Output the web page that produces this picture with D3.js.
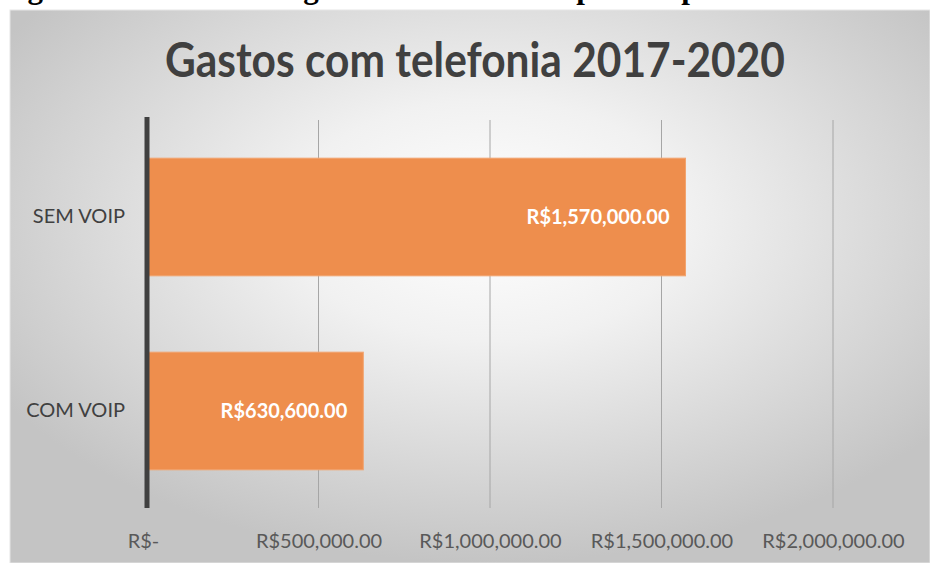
<!DOCTYPE html>
<html>
<head>
<meta charset="utf-8">
<script src="https://cdn.jsdelivr.net/npm/d3@7"></script>
<style>
  body { margin: 0; background: #fff; }
  svg { display: block; }
</style>
</head>
<body>
<div id="container"></div>
<script>
// chart data
var categories = ["SEM VOIP", "COM VOIP"];
var values = [1570000, 630600];
var tickValues = [0, 500000, 1000000, 1500000, 2000000];
var tickLabels = ["R$-", "R$500,000.00", "R$1,000,000.00", "R$1,500,000.00", "R$2,000,000.00"];
var valueLabels = ["R$1,570,000.00", "R$630,600.00"];
var title = "Gastos com telefonia 2017-2020";
var caption = "Figura 8 – Previsão de gastos com telefonia para os próximos três anos";

var W = 930, H = 563;
var font = "Lato, 'Open Sans', sans-serif";

var svg = d3.select("#container")
  .append("svg")
    .attr("width", W)
    .attr("height", H);

// background gradient of the chart area
var defs = svg.append("defs");
var grad = defs.append("radialGradient")
    .attr("id", "bg")
    .attr("cx", "52%").attr("cy", "38%").attr("r", "62%");
grad.append("stop").attr("offset", "0%").attr("stop-color", "#ffffff");
grad.append("stop").attr("offset", "35%").attr("stop-color", "#f1f1f1");
grad.append("stop").attr("offset", "100%").attr("stop-color", "#c4c4c4");

// document caption, cut off by the top of the page as in the source
svg.append("text")
    .attr("x", 0)
    .attr("y", -2)
    .attr("font-family", "'Liberation Serif', 'Times New Roman', serif")
    .attr("font-weight", "bold")
    .attr("font-size", 31)
    .attr("fill", "#000")
    .text(caption);

svg.append("rect")
    .attr("x", 10)
    .attr("y", 10)
    .attr("width", W - 10)
    .attr("height", H - 10)
    .attr("fill", "url(#bg)")
    .attr("stroke", "#e6e6e6")
    .attr("stroke-width", 1);

// title
svg.append("text")
    .attr("x", 475)
    .attr("y", 77)
    .attr("text-anchor", "middle")
    .attr("font-family", font)
    .attr("font-weight", "bold")
    .attr("font-size", 47)
    .attr("textLength", 620)
    .attr("lengthAdjust", "spacingAndGlyphs")
    .attr("fill", "#404040")
    .text(title);

// scales
var x = d3.scaleLinear()
    .domain([0, 2000000])
    .range([147, 833]);

var y = d3.scaleBand()
    .domain(categories)
    .range([120, 508])
    .paddingInner(0.3935)
    .paddingOuter(0.1968);

// gridlines
svg.append("g")
    .attr("class", "grid")
  .selectAll("line")
    .data(tickValues.slice(1))
  .enter().append("line")
    .attr("x1", function(d) { return x(d); })
    .attr("x2", function(d) { return x(d); })
    .attr("y1", 120)
    .attr("y2", 508)
    .attr("stroke", "#a6a6a6")
    .attr("stroke-width", 1);

// bars
svg.selectAll(".bar")
    .data(values)
  .enter().append("rect")
    .attr("class", "bar")
    .attr("x", x(0))
    .attr("y", function(d, i) { return y(categories[i]); })
    .attr("width", function(d) { return x(d) - x(0); })
    .attr("height", y.bandwidth())
    .attr("fill", "#ee8e4d")
    .attr("stroke", "#f2a46f")
    .attr("stroke-width", 1);

// value labels
svg.selectAll(".vlabel")
    .data(values)
  .enter().append("text")
    .attr("class", "vlabel")
    .attr("x", function(d) { return x(d) - 16; })
    .attr("y", function(d, i) { return y(categories[i]) + y.bandwidth() / 2; })
    .attr("dy", "0.36em")
    .attr("text-anchor", "end")
    .attr("font-family", font)
    .attr("font-weight", "bold")
    .attr("font-size", 20)
    .attr("fill", "#ffffff")
    .text(function(d, i) { return valueLabels[i]; });

// y axis
var yAxis = d3.axisLeft(y).tickSize(0).tickPadding(22);
var gy = svg.append("g")
    .attr("transform", "translate(" + x(0) + ",0)")
    .call(yAxis);
gy.select(".domain").remove();
gy.selectAll("text")
    .attr("font-family", font)
    .attr("font-size", 20)
    .attr("fill", "#404040");

svg.append("line")
    .attr("x1", x(0))
    .attr("x2", x(0))
    .attr("y1", 117)
    .attr("y2", 508)
    .attr("stroke", "#404040")
    .attr("stroke-width", 5);

// x axis labels
var xAxis = d3.axisBottom(x)
    .tickValues(tickValues)
    .tickFormat(function(d, i) { return tickLabels[i]; })
    .tickSize(0)
    .tickPadding(26);
var gx = svg.append("g")
    .attr("transform", "translate(0,508)")
    .call(xAxis);
gx.select(".domain").remove();
gx.selectAll("text")
    .attr("font-family", font)
    .attr("font-size", 20)
    .attr("fill", "#595959")
    .attr("dx", function(d, i) { return i === 0 ? -4 : 0; });
</script>
</body>
</html>
